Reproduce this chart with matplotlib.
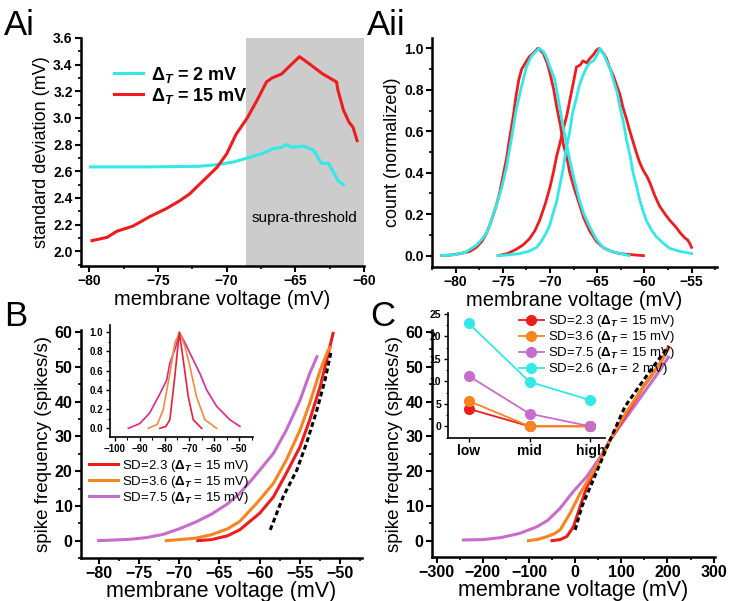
import matplotlib
matplotlib.use('Agg')
import matplotlib.pyplot as plt
from matplotlib.ticker import MultipleLocator

plt.rcParams['font.family'] = ['Liberation Sans', 'DejaVu Sans']
plt.rcParams['font.weight'] = 'bold'
plt.rcParams['mathtext.fontset'] = 'custom'
plt.rcParams['mathtext.rm'] = 'Liberation Sans'
plt.rcParams['mathtext.it'] = 'Liberation Sans:italic'
plt.rcParams['mathtext.bf'] = 'Liberation Sans:bold'

RED = '#ee1c1c'
CYAN = '#33e8e8'
ORANGE = '#f7841e'
VIOLET = '#c86ccc'

# =============================================================================
# Data, panel Ai (SD vs membrane voltage)
# =============================================================================
ai_red_v = [-79.8, -78.7, -78.0, -76.8, -75.6, -74.4, -73.4, -72.7, -71.9, -71.2,
            -70.7, -70.0, -69.3, -68.5, -67.8, -67.1, -66.7, -66.0, -65.4, -64.7,
            -63.9, -63.0, -62.0, -61.9, -61.5, -61.1, -60.8, -60.5]
ai_red_sd = [2.08, 2.105, 2.15, 2.19, 2.26, 2.32, 2.38, 2.43, 2.51, 2.58,
             2.63, 2.73, 2.88, 3.00, 3.13, 3.27, 3.30, 3.33, 3.39, 3.46,
             3.40, 3.33, 3.27, 3.21, 3.06, 2.97, 2.93, 2.83]
ai_cyan_v = [-79.9, -76.0, -72.0, -70.7, -69.5, -68.5, -67.5, -66.6, -66.0, -65.7,
             -65.2, -64.4, -63.7, -63.5, -63.1, -62.6, -62.2, -61.9, -61.5]
ai_cyan_sd = [2.633, 2.633, 2.638, 2.65, 2.67, 2.70, 2.73, 2.77, 2.78, 2.80,
              2.78, 2.79, 2.76, 2.73, 2.66, 2.66, 2.59, 2.53, 2.50]

# =============================================================================
# Data, panel Aii (normalized histograms)
# =============================================================================
aii_red1_v = [-81.5, -80.5, -79.5, -78.5, -77.8, -77.2, -76.7, -76.2, -75.7, -75.3,
              -75.0, -74.6, -74.3, -73.9, -73.6, -73.3, -73.0, -72.6, -72.2, -71.7,
              -71.3, -71.0, -70.7, -70.3, -70.0, -69.6, -69.3, -68.9, -68.6, -68.2,
              -67.9, -67.4, -66.9, -66.4, -65.8, -65.1, -64.4, -63.5, -62.6, -61.5, -60.1]
aii_red1_c = [0.0, 0.003, 0.01, 0.02, 0.04, 0.07, 0.11, 0.17, 0.24, 0.31,
              0.38, 0.47, 0.56, 0.67, 0.77, 0.85, 0.90, 0.93, 0.96, 0.98,
              1.0, 0.99, 0.975, 0.93, 0.88, 0.80, 0.72, 0.63, 0.54, 0.47,
              0.40, 0.32, 0.25, 0.18, 0.12, 0.07, 0.04, 0.02, 0.01, 0.005, 0.0]
aii_cyan1_v = [-81.5, -80.0, -79.0, -78.5, -77.8, -77.2, -76.7, -76.2, -75.7, -75.1,
               -74.6, -74.1, -73.6, -73.0, -72.5, -72.0, -71.4, -71.1, -70.7, -70.4,
               -70.0, -69.5, -69.1, -68.6, -68.2, -67.9, -67.4, -66.9, -66.4, -65.8,
               -65.1, -64.4, -63.5, -62.5, -61.6]
aii_cyan1_c = [0.0, 0.005, 0.015, 0.03, 0.05, 0.08, 0.11, 0.17, 0.24, 0.33,
               0.43, 0.56, 0.70, 0.82, 0.91, 0.96, 0.99, 1.0, 0.985, 0.96,
               0.91, 0.85, 0.75, 0.62, 0.53, 0.46, 0.36, 0.27, 0.20, 0.14,
               0.08, 0.04, 0.02, 0.01, 0.0]
aii_red2_v = [-75.5, -74.5, -73.6, -72.9, -72.2, -71.6, -71.1, -70.5, -70.0, -69.6,
              -69.3, -68.9, -68.6, -68.2, -67.9, -67.5, -67.2, -66.8, -66.5, -66.1,
              -65.8, -65.4, -65.1, -64.8, -64.4, -64.0, -63.7, -63.3, -63.0, -62.6,
              -62.3, -61.9, -61.6, -61.2, -60.8, -60.5, -60.1, -59.7, -59.4, -58.9,
              -58.4, -57.8, -57.3, -56.7, -56.2, -55.7, -55.4, -55.2, -55.0]
aii_red2_c = [0.0, 0.01, 0.03, 0.05, 0.08, 0.12, 0.17, 0.25, 0.33, 0.41,
              0.48, 0.55, 0.61, 0.68, 0.75, 0.84, 0.91, 0.92, 0.94, 0.93,
              0.95, 0.97, 0.99, 1.0, 0.98, 0.95, 0.91, 0.87, 0.83, 0.78,
              0.72, 0.66, 0.61, 0.55, 0.49, 0.45, 0.41, 0.38, 0.35, 0.29,
              0.24, 0.20, 0.17, 0.14, 0.11, 0.085, 0.075, 0.06, 0.04]
aii_cyan2_v = [-75.5, -74.5, -73.2, -72.3, -71.4, -70.9, -70.4, -70.0, -69.7, -69.3,
               -69.0, -68.6, -68.3, -67.9, -67.6, -67.2, -66.9, -66.5, -66.1, -65.8,
               -65.4, -65.0, -64.7, -64.3, -64.0, -63.6, -63.3, -62.9, -62.6, -62.2,
               -61.9, -61.5, -61.2, -60.8, -60.5, -60.1, -59.8, -59.2, -58.7, -58.0,
               -57.3, -56.2, -55.0]
aii_cyan2_c = [0.0, 0.003, 0.01, 0.02, 0.04, 0.07, 0.11, 0.15, 0.20, 0.26,
               0.33, 0.42, 0.51, 0.60, 0.69, 0.76, 0.82, 0.87, 0.91, 0.93,
               0.94, 0.97, 1.0, 0.97, 0.94, 0.90, 0.85, 0.79, 0.72, 0.64,
               0.56, 0.48, 0.40, 0.33, 0.27, 0.21, 0.17, 0.12, 0.09, 0.06,
               0.035, 0.02, 0.01]

# =============================================================================
# Data, panel B (f-I curves vs mean voltage)
# =============================================================================
b_violet_v = [-80, -78, -76, -74, -72, -70, -68, -66, -64, -62.5,
              -61, -60, -58.3, -56.7, -55, -53.8, -52.9]
b_violet_f = [0.0, 0.2, 0.4, 0.9, 1.8, 3.4, 5.3, 7.6, 10.6, 13.6,
              17.5, 20.3, 25.1, 31.8, 40.4, 48.1, 52.9]
b_orange_v = [-71.6, -70, -68, -66, -64, -62.5, -60.4, -58.3, -56.7, -55,
              -53.8, -52.5, -51.5, -51.2]
b_orange_f = [0.0, 0.3, 0.7, 1.7, 3.4, 5.5, 10.7, 16.5, 23.2, 31.8,
              39.5, 49.0, 54.8, 55.6]
b_red_v = [-67.7, -66, -64, -62.5, -60, -58.3, -56.7, -55, -53.8, -52.5,
           -51.5, -50.9]
b_red_f = [0.0, 0.3, 1.4, 3.1, 7.9, 12.6, 19.4, 27.0, 34.7, 44.3,
           53.8, 59.6]
b_fit_v = [-58.7, -57.1, -55.4, -54.2, -52.9, -51.9, -51.1]
b_fit_f = [3.1, 12.6, 20.3, 28.0, 37.6, 46.2, 54.8]

# inset B: voltage distributions
bi_mag_v = [-94.6, -90.0, -86.0, -81.9, -79.2, -77.9, -75.9, -73.9, -71.8, -69.2,
            -65.8, -63.1, -59.1, -53.8, -49.7]
bi_mag_c = [0.0, 0.05, 0.16, 0.36, 0.50, 0.68, 0.82, 0.99, 0.89, 0.75,
            0.57, 0.40, 0.23, 0.09, 0.02]
bi_orange_v = [-86.6, -83.0, -80.6, -77.9, -75.9, -73.9, -71.8, -69.8, -67.2, -63.8, -59.1]
bi_orange_c = [0.0, 0.04, 0.19, 0.57, 0.89, 1.0, 0.85, 0.64, 0.33, 0.09, 0.0]
bi_red_v = [-81.9, -79.5, -77.9, -75.9, -74.1, -72.5, -70.5, -68.5, -65.1]
bi_red_c = [0.0, 0.02, 0.09, 0.54, 1.0, 0.71, 0.33, 0.09, 0.0]

# =============================================================================
# Data, panel C (f-I curves vs input)
# =============================================================================
c_violet_v = [-242, -200, -160, -120, -83, -60, -32.6, -3.7, 25, 54,
              75.8, 112, 148, 184, 202]
c_violet_f = [0.2, 0.3, 0.9, 2.1, 4.0, 5.8, 9.3, 14.2, 18.4, 24.0,
              29.0, 35.7, 42.4, 49.1, 52.8]
c_orange_v = [-101, -80, -60, -45, -32.6, -10.9, 10.8, 32.5, 54, 75.8,
              112, 148, 184, 202]
c_orange_f = [0.0, 0.4, 1.2, 2.0, 3.1, 7.9, 13.6, 18.4, 23.2, 29.0,
              37.2, 44.3, 51.0, 55.2]
c_red_v = [-50, -32.6, -18, -3.7, 10.8, 25.3, 47, 75.8, 112, 148, 184, 202]
c_red_f = [0.0, 0.3, 1.2, 4.0, 9.8, 15.5, 21.3, 29.0, 36.7, 44.3, 51.0, 55.7]
c_fit_v = [0, 14.5, 36.1, 75.8, 108, 159, 202]
c_fit_f = [3.1, 9.8, 16.5, 29.0, 38.6, 48.2, 55.9]

# inset C
levels = ['low', 'mid', 'high']
ci_red = [3.9, 0.0, 0.0]
ci_orange = [5.65, 0.0, 0.0]
ci_violet = [11.2, 2.8, 0.0]
ci_cyan = [22.9, 9.9, 5.8]


def style_axes(ax, labelsize=10, spw=1.8):
    ax.spines['top'].set_visible(False)
    ax.spines['right'].set_visible(False)
    ax.spines['left'].set_linewidth(spw)
    ax.spines['bottom'].set_linewidth(spw)
    ax.tick_params(direction='out', labelsize=labelsize, width=1.5, length=4, pad=2)
    ax.tick_params(which='minor', direction='out', width=1.2, length=2.5)


fig = plt.figure()
fig.set_size_inches(7.33, 6.01)

# =============================================================================
# Panel Ai
# =============================================================================
ax = fig.add_axes([0.1105, 0.5574, 0.3861, 0.3794])
ax.axvspan(-68.6, -60, color='#cccccc', lw=0, zorder=0)
ax.plot(ai_cyan_v, ai_cyan_sd, '-', color=CYAN, lw=2.2, label=r'$\mathbf{\Delta}_T$ = 2 mV')
ax.plot(ai_red_v, ai_red_sd, '-', color=RED, lw=2.2, label=r'$\mathbf{\Delta}_T$ = 15 mV')
ax.set_xlim(-80.6, -60)
ax.set_ylim(1.89, 3.6)
ax.xaxis.set_major_locator(MultipleLocator(5))
ax.xaxis.set_minor_locator(MultipleLocator(2.5))
ax.yaxis.set_major_locator(MultipleLocator(0.2))
ax.yaxis.set_minor_locator(MultipleLocator(0.1))
ax.set_xlabel('membrane voltage (mV)', fontsize=14.5, fontweight='normal', labelpad=1)
ax.set_ylabel('standard deviation (mV)', fontsize=13, fontweight='normal', labelpad=2)
ax.text(-64.3, 2.25, 'supra-threshold', fontsize=11, fontweight='normal',
        ha='center', va='center')
style_axes(ax)
lgd = ax.legend(loc='upper left', bbox_to_anchor=(0.08, 0.93),
                handlelength=1.6, handletextpad=0.4, labelspacing=0.05,
                borderpad=0.1, prop={'weight': 'bold', 'size': 13})
lgd.set_frame_on(False)
fig.text(0.005, 0.985, 'Ai', fontsize=25, fontweight='normal', va='top')

# =============================================================================
# Panel Aii
# =============================================================================
ax = fig.add_axes([0.5894, 0.5557, 0.3888, 0.381])
ax.plot(aii_red1_v, aii_red1_c, '-', color=RED, lw=2)
ax.plot(aii_red2_v, aii_red2_c, '-', color=RED, lw=2)
ax.plot(aii_cyan1_v, aii_cyan1_c, '-', color=CYAN, lw=2)
ax.plot(aii_cyan2_v, aii_cyan2_c, '-', color=CYAN, lw=2)
ax.set_xlim(-82.5, -52.3)
ax.set_ylim(-0.055, 1.05)
ax.xaxis.set_major_locator(MultipleLocator(5))
ax.xaxis.set_minor_locator(MultipleLocator(2.5))
ax.yaxis.set_major_locator(MultipleLocator(0.2))
ax.yaxis.set_minor_locator(MultipleLocator(0.1))
ax.set_xlabel('membrane voltage (mV)', fontsize=14.5, fontweight='normal', labelpad=1)
ax.set_ylabel('count (normalized)', fontsize=13, fontweight='normal', labelpad=2)
style_axes(ax)
fig.text(0.5, 0.985, 'Aii', fontsize=25, fontweight='normal', va='top')

# =============================================================================
# Panel B
# =============================================================================
ax = fig.add_axes([0.1105, 0.0715, 0.3834, 0.3794])
ax.plot(b_red_v, b_red_f, '-', color=RED, lw=2.2, label=r'SD=2.3 ($\Delta_T$ = 15 mV)')
ax.plot(b_orange_v, b_orange_f, '-', color=ORANGE, lw=2.2, label=r'SD=3.6 ($\Delta_T$ = 15 mV)')
ax.plot(b_violet_v, b_violet_f, '-', color=VIOLET, lw=2.2, label=r'SD=7.5 ($\Delta_T$ = 15 mV)')
ax.plot(b_fit_v, b_fit_f, '--', color='black', lw=2.2, dashes=(1.6, 1.0))
ax.set_xlim(-82.2, -47.3)
ax.set_ylim(-5, 60.6)
ax.xaxis.set_major_locator(MultipleLocator(5))
ax.xaxis.set_minor_locator(MultipleLocator(2.5))
ax.yaxis.set_major_locator(MultipleLocator(10))
ax.yaxis.set_minor_locator(MultipleLocator(5))
ax.set_xlabel('membrane voltage (mV)', fontsize=15.5, fontweight='normal', labelpad=0)
ax.set_ylabel('spike frequency (spikes/s)', fontsize=13.5, fontweight='normal', labelpad=2)
style_axes(ax, labelsize=11.5)
lgd = ax.legend(loc='upper left', bbox_to_anchor=(0.0, 0.475),
                handlelength=2.2, handletextpad=0.3, labelspacing=0.0,
                borderpad=0.1, prop={'weight': 'normal', 'size': 9.5})
lgd.set_frame_on(False)
fig.text(0.005, 0.5, 'B', fontsize=25, fontweight='normal', va='top')

# inset B
ax = fig.add_axes([0.150, 0.2729, 0.195, 0.1864])
ax.plot(bi_mag_v, bi_mag_c, '-', color='#e0288c', lw=1.2)
ax.plot(bi_orange_v, bi_orange_c, '-', color='#f58a3c', lw=1.2)
ax.plot(bi_red_v, bi_red_c, '-', color='#e8203a', lw=1.2)
ax.set_xlim(-102, -44.5)
ax.set_ylim(-0.09, 1.076)
ax.xaxis.set_major_locator(MultipleLocator(10))
ax.xaxis.set_minor_locator(MultipleLocator(5))
ax.yaxis.set_major_locator(MultipleLocator(0.2))
ax.yaxis.set_minor_locator(MultipleLocator(0.1))
style_axes(ax, labelsize=7, spw=1.2)
ax.tick_params(length=3, width=1.0)
ax.tick_params(which='minor', length=1.8, width=0.8)

# =============================================================================
# Panel C
# =============================================================================
ax = fig.add_axes([0.5894, 0.0732, 0.3861, 0.3777])
ax.plot(c_violet_v, c_violet_f, '-', color=VIOLET, lw=2.2)
ax.plot(c_red_v, c_red_f, '-', color=RED, lw=2.2)
ax.plot(c_orange_v, c_orange_f, '-', color=ORANGE, lw=2.2)
ax.plot(c_fit_v, c_fit_f, '--', color='black', lw=2.2, dashes=(1.6, 1.0))
ax.set_xlim(-310, 303)
ax.set_ylim(-4.7, 60.6)
ax.xaxis.set_major_locator(MultipleLocator(100))
ax.xaxis.set_minor_locator(MultipleLocator(50))
ax.yaxis.set_major_locator(MultipleLocator(10))
ax.yaxis.set_minor_locator(MultipleLocator(5))
ax.set_xlabel('membrane voltage (mV)', fontsize=15.5, fontweight='normal', labelpad=0)
ax.set_ylabel('spike frequency (spikes/s)', fontsize=13.5, fontweight='normal', labelpad=2)
style_axes(ax, labelsize=11.5)
fig.text(0.505, 0.5, 'C', fontsize=25, fontweight='normal', va='top')

# inset C
ax = fig.add_axes([0.6112, 0.2712, 0.2142, 0.208])
pos = [0, 1, 2]
ax.plot(pos, ci_red, '-o', color=RED, lw=1.3, ms=7, label=r'SD=2.3 ($\Delta_T$ = 15 mV)')
ax.plot(pos, ci_orange, '-o', color=ORANGE, lw=1.3, ms=7, label=r'SD=3.6 ($\Delta_T$ = 15 mV)')
ax.plot(pos, ci_violet, '-o', color=VIOLET, lw=1.3, ms=7, label=r'SD=7.5 ($\Delta_T$ = 15 mV)')
ax.plot(pos, ci_cyan, '-o', color=CYAN, lw=1.3, ms=7, label=r'SD=2.6 ($\Delta_T$ = 2 mV)')
ax.set_xlim(-0.34, 2.24)
ax.set_ylim(-2.6, 25.2)
ax.set_xticks(pos)
ax.set_xticklabels(levels)
ax.yaxis.set_major_locator(MultipleLocator(5))
ax.yaxis.set_minor_locator(MultipleLocator(2.5))
style_axes(ax, labelsize=7.5, spw=1.2)
ax.tick_params(length=3, width=1.0)
ax.tick_params(which='minor', length=1.8, width=0.8)
ax.tick_params(axis='x', labelsize=10, pad=1)
lgd = ax.legend(loc='upper left', bbox_to_anchor=(0.40, 1.06),
                handlelength=1.9, handletextpad=0.3, labelspacing=0.0,
                borderpad=0.1, prop={'weight': 'normal', 'size': 9.5})
lgd.set_frame_on(False)

fig.savefig('out.png', dpi=100)
